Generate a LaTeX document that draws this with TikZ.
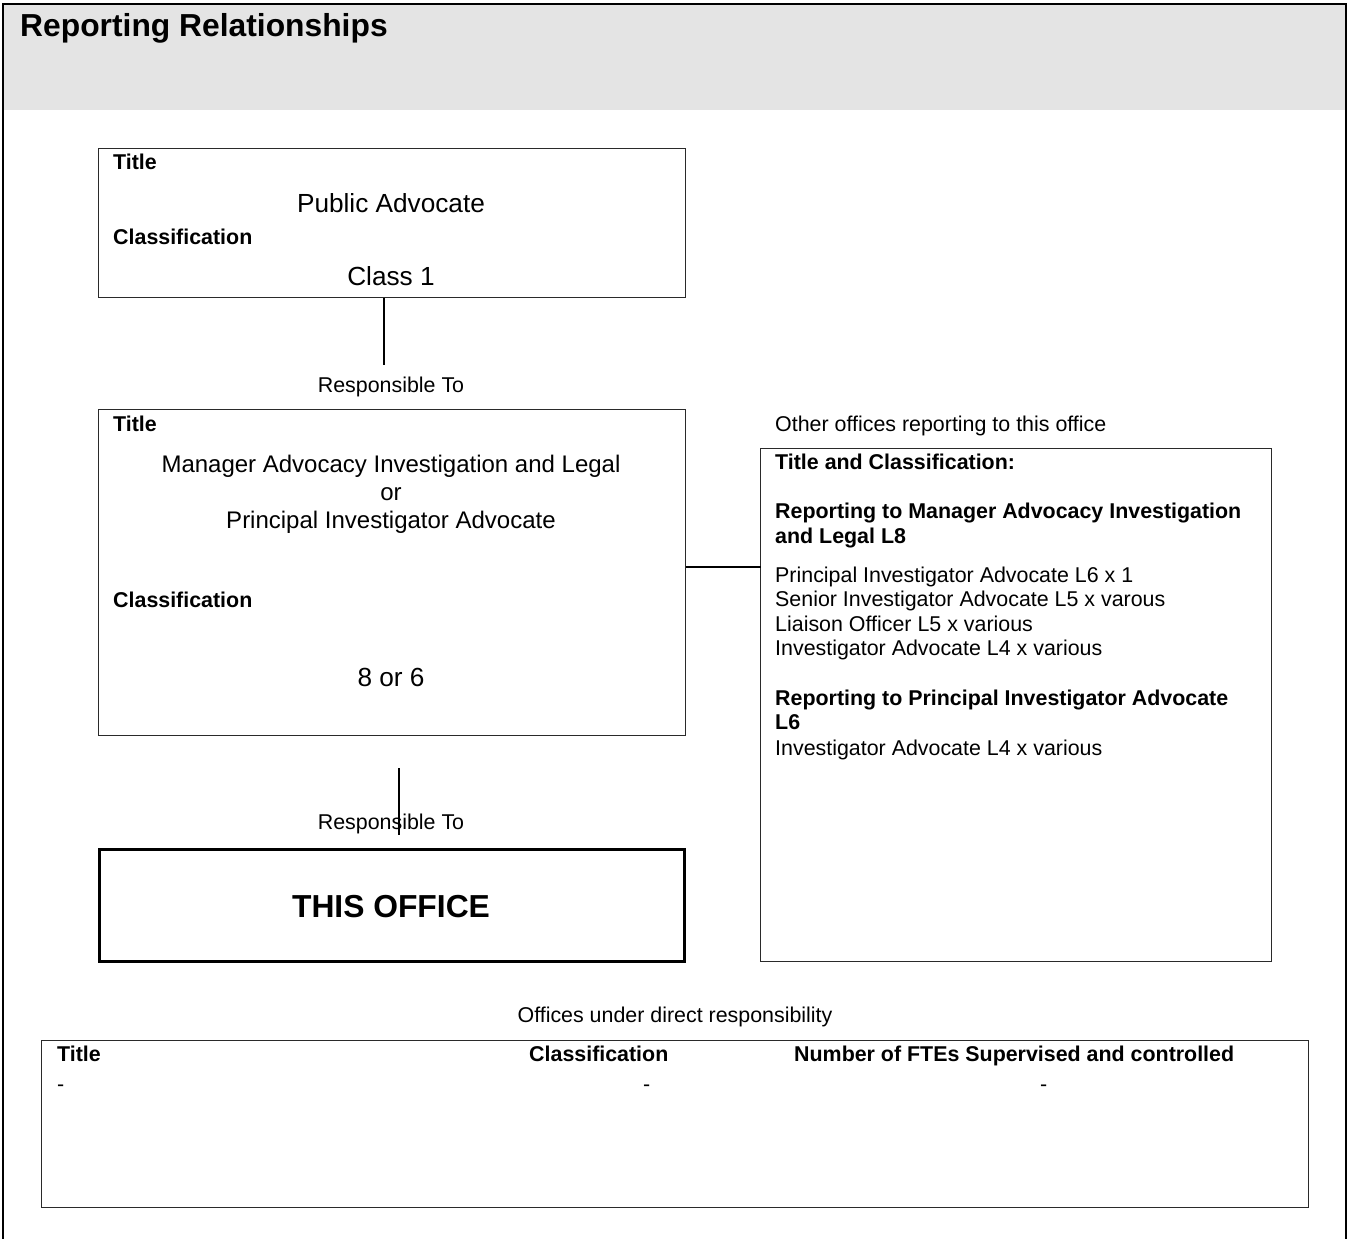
\documentclass[tikz,border=0pt]{standalone}
\usepackage{fontspec}
\setmainfont{Liberation Sans}
\newcommand\fsS{\fontsize{21.4}{25.7}\selectfont}
\newcommand\fsM{\fontsize{26.2}{31}\selectfont}
\newcommand\fsN{\fontsize{24}{28}\selectfont}
\newcommand\fsL{\fontsize{31.8}{38}\selectfont}
\definecolor{band}{HTML}{E4E4E4}
\definecolor{boxline}{HTML}{2A2A2A}
\begin{document}
\begin{tikzpicture}[x=1pt,y=-1pt,
  box/.style={draw=boxline, line width=1.3pt, inner sep=0pt, outer sep=0pt, anchor=north west},
  lw/.style={inner sep=0pt, anchor=base west, font=\fsS},
  lb/.style={inner sep=0pt, anchor=base west, font=\fsS\bfseries},
  cS/.style={inner sep=0pt, anchor=base, font=\fsS},
  cM/.style={inner sep=0pt, anchor=base, font=\fsM},
  cN/.style={inner sep=0pt, anchor=base, font=\fsN},
  conn/.style={draw=black, line width=1.5pt}]
\useasboundingbox (0,0) rectangle (1349,1239);
% header band and frame
\fill[band] (3,4) rectangle (1346,110);
\draw[line width=2pt, black] (3,1239) -- (3,4) -- (1346,4) -- (1346,1239);
\node[inner sep=0pt, anchor=base west, font=\fsL\bfseries] (hdr) at (20,37) {Reporting Relationships};

% box 1: Public Advocate
\node[box, minimum width=587pt, minimum height=149pt] (pa) at (98.5,148.5) {};
\node[lb] (pat) at (113,169) {Title};
\node[cM] (pan) at (391,212) {Public Advocate};
\node[lb] (pac) at (113,244) {Classification};
\node[cM] (pacl) at (391,285) {Class 1};

\coordinate (c1) at (384,365);
\draw[conn] (pa.south -| c1) -- (c1);
\node[cS] (resp1) at (391,392) {Responsible To};

% box 2: Manager
\node[box, minimum width=587pt, minimum height=326pt] (mgr) at (98.5,409.5) {};
\node[lb] (mgt) at (113,431) {Title};
\node[cN] (mg1) at (391,472) {Manager Advocacy Investigation and Legal};
\node[cN] (mg2) at (391,500) {or};
\node[cN] (mg3) at (391,528) {Principal Investigator Advocate};
\node[lb] (mgc) at (113,607) {Classification};
\node[cM] (mgcl) at (391,686) {8 or 6};

% other offices box
\node[lw] (oth) at (775,431) {Other offices reporting to this office};
\node[box, minimum width=511pt, minimum height=513pt] (other) at (760.5,448.5) {};
\node[lb] (o1) at (775,469) {Title and Classification:};
\node[lb] (o2) at (775,518) {Reporting to Manager Advocacy Investigation};
\node[lb] (o3) at (775,543) {and Legal L8};
\node[lw] (o4) at (775,582) {Principal Investigator Advocate L6 x 1};
\node[lw] (o5) at (775,606) {Senior Investigator Advocate L5 x varous};
\node[lw] (o6) at (775,631) {Liaison Officer L5 x various};
\node[lw] (o7) at (775,655) {Investigator Advocate L4 x various};
\node[lb] (o8) at (775,705) {Reporting to Principal Investigator Advocate};
\node[lb] (o9) at (775,729) {L6};
\node[lw] (o10) at (775,755) {Investigator Advocate L4 x various};

\coordinate (c3) at (685,567);
\draw[conn] (mgr.east |- c3) -- (other.west |- c3);

% responsible to (2)
\node[cS] (resp2) at (391,829) {Responsible To};
\coordinate (c2a) at (399,768);
\coordinate (c2b) at (399,835);
\draw[conn] (c2a) -- (c2b);

% this office
\node[box, draw=black, line width=3.5pt, minimum width=585pt, minimum height=112pt] (this) at (99.5,849.5) {};
\node[inner sep=0pt, anchor=base, font=\fsL\bfseries] (thist) at (391,917) {THIS OFFICE};

% offices under direct responsibility
\node[cS] (under) at (675,1022) {Offices under direct responsibility};
\node[box, minimum width=1267pt, minimum height=167pt] (tbl) at (41.5,1040.5) {};
\node[lb] (th1) at (57,1061) {Title};
\node[lb] (th2) at (529,1061) {Classification};
\node[lb] (th3) at (794,1061) {Number of FTEs Supervised and controlled};
\node[lw] (d1) at (57,1091) {-};
\node[lw] (d2) at (643,1091) {-};
\node[lw] (d3) at (1040,1091) {-};
\end{tikzpicture}
\end{document}
